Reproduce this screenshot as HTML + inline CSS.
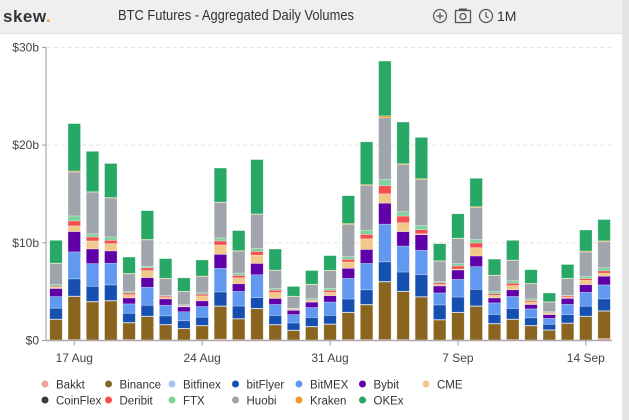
<!DOCTYPE html>
<html><head><meta charset="utf-8"><style>
body{margin:0;width:629px;height:420px;overflow:hidden;background:#fff;font-family:"Liberation Sans",sans-serif;position:relative}
#hdr{position:absolute;left:0;top:0;width:622px;height:33px;background:#efefef;border-bottom:1px solid #e2e2e2}
#logo{position:absolute;left:3px;top:7px;font-size:17px;font-weight:bold;color:#333;letter-spacing:.5px}
#logo span{color:#f0a020}
#title{position:absolute;left:118px;top:8px;font-size:14.5px;color:#333;white-space:nowrap;transform:scaleX(0.89);transform-origin:0 0}
#scroll{position:absolute;right:0;top:0;width:7px;height:420px;background:#e4e4e4}
.ic{position:absolute;top:8px;color:#555;font-size:14px}
</style></head><body>
<div id="hdr">
<div id="logo">skew<span>.</span></div>
<div id="title">BTC Futures - Aggregated Daily Volumes</div>
<svg class="ic" style="left:432px;top:8px" width="16" height="16"><circle cx="8" cy="8" r="6.5" fill="none" stroke="#555" stroke-width="1.2"/><path d="M8 4.5v7M4.5 8h7" stroke="#555" stroke-width="1.2"/></svg>
<svg class="ic" style="left:454px;top:7px" width="18" height="17"><rect x="1.5" y="3.5" width="15" height="12" fill="none" stroke="#555" stroke-width="1.3"/><rect x="5" y="1.5" width="8" height="2" fill="#555"/><circle cx="9" cy="9.5" r="3" fill="none" stroke="#555" stroke-width="1.3"/></svg>
<svg class="ic" style="left:478px;top:8px" width="16" height="16"><circle cx="8" cy="8" r="6.5" fill="none" stroke="#555" stroke-width="1.2"/><path d="M8 4v4.5l2.5 1.5" fill="none" stroke="#555" stroke-width="1.2"/></svg>
<div class="ic" style="left:497px;top:8px;font-size:14px;color:#333">1M</div>
</div>
<div id="scroll"></div>
<svg id="chart" width="629" height="420" style="position:absolute;left:0;top:0"></svg>
<script>
const dates=["16 Aug","17 Aug","18 Aug","19 Aug","20 Aug","21 Aug","22 Aug","23 Aug","24 Aug","25 Aug","26 Aug","27 Aug","28 Aug","29 Aug","30 Aug","31 Aug","1 Sep","2 Sep","3 Sep","4 Sep","5 Sep","6 Sep","7 Sep","8 Sep","9 Sep","10 Sep","11 Sep","12 Sep","13 Sep","14 Sep","15 Sep"];
const seriesNames=["Bakkt","Binance","Bitfinex","bitFlyer","BitMEX","Bybit","CME","CoinFlex","Deribit","FTX","Huobi","Kraken","OKEx"];
const seriesColors=["#f4a0a0","#8a6520","#a3c4f3","#1550b0","#6199f0","#6000a8","#f2c98a","#333c44","#f44e4e","#80d0a0","#a0a5ac","#e6a02a","#27a866"];
const bakkt=[0.05,0.1,0.05,0.05,0.1,0.05,0.05,0.05,0.1,0.15,0.1,0.1,0.05,0.05,0.05,0.05,0.1,0.1,0.1,0.1,0.05,0.05,0.05,0.05,0.05,0.1,0.05,0.05,0.05,0.05,0.2];
const binance=[2.1,4.4,3.9,4.0,1.7,2.4,1.55,1.15,1.4,3.35,2.1,3.15,1.55,0.97,1.35,1.6,2.75,3.55,5.9,4.9,4.4,2.05,2.8,3.45,1.65,2.05,1.45,1.0,1.7,2.4,2.8];
const bitfinex=[0.05,0.05,0.05,0.05,0.05,0.05,0.05,0.05,0.05,0.05,0.05,0.05,0.05,0.05,0.05,0.05,0.05,0.05,0.05,0.05,0.05,0.05,0.05,0.05,0.05,0.05,0.05,0.05,0.05,0.05,0.05];
const bitflyer=[1.11,1.76,1.55,1.59,0.94,1.11,0.87,0.77,0.84,1.42,1.28,1.08,0.91,0.73,0.91,0.87,1.35,1.49,2.0,1.96,2.24,1.49,1.55,1.69,0.91,1.08,0.77,0.56,0.84,1.01,1.21];
const bitmex=[1.19,2.76,2.32,2.22,0.96,1.84,1.09,0.92,1.09,2.42,1.5,2.35,1.13,0.85,1.02,1.37,2.12,2.7,3.86,2.66,2.49,1.23,1.81,2.32,1.19,1.23,0.92,0.61,1.06,1.43,1.43];
const bybit=[0.82,2.08,1.5,1.26,0.61,0.99,0.65,0.51,0.58,1.43,0.78,1.16,0.61,0.44,0.55,0.65,1.02,1.43,2.15,1.47,1.6,0.72,0.96,1.09,0.51,0.68,0.44,0.38,0.61,0.78,0.89];
const cme=[0.14,0.58,0.82,0.75,0.34,0.72,0.14,0.07,0.51,0.96,0.61,0.85,0.61,0.07,0.14,0.34,0.65,1.09,0.96,0.92,0.1,0.14,0.1,0.85,0.27,0.44,0.27,0.14,0.1,0.44,0.31];
const coinflex=[0,0,0,0,0,0,0,0,0,0,0,0,0,0,0,0,0,0,0,0,0,0,0,0,0,0,0,0,0,0,0];
const deribit=[0.1,0.51,0.41,0.34,0.17,0.27,0.14,0.07,0.17,0.41,0.24,0.38,0.24,0.07,0.07,0.2,0.27,0.44,0.82,0.68,0.41,0.17,0.31,0.48,0.17,0.24,0.14,0.07,0.14,0.17,0.24];
const ftx=[0.17,0.51,0.31,0.34,0.14,0.17,0.07,0.07,0.17,0.31,0.24,0.31,0.17,0.07,0.14,0.2,0.27,0.44,0.65,0.44,0.44,0.14,0.24,0.38,0.24,0.24,0.17,0.1,0.07,0.24,0.31];
const huobi=[2.15,4.5,4.27,3.99,1.81,2.7,1.71,1.33,1.64,3.62,2.25,3.48,1.84,1.19,1.43,1.81,3.31,4.57,6.31,4.81,4.68,2.08,2.56,3.24,1.6,2.08,1.54,0.96,1.71,2.49,2.66];
const kraken=[0.05,0.1,0.05,0.05,0.05,0.05,0.05,0.05,0.05,0.05,0.05,0.05,0.05,0.05,0.05,0.05,0.1,0.1,0.2,0.1,0.1,0.05,0.05,0.1,0.05,0.05,0.05,0.05,0.05,0.1,0.1];
const okex=[2.32,4.85,4.13,3.48,1.67,2.94,2.01,1.37,1.64,3.48,2.05,5.56,2.15,0.99,1.4,1.5,2.83,4.37,5.6,4.27,4.23,1.74,2.49,2.9,1.64,2.01,1.4,0.89,1.4,2.15,2.18];
const yTicks=[0,10,20,30];
const yTickLabels=["$0","$10b","$20b","$30b"];
const xTickIdx=[1,8,15,22,29];
const xTickLabels=["17 Aug","24 Aug","31 Aug","7 Sep","14 Sep"];

const seriesData=[bakkt,binance,bitfinex,bitflyer,bitmex,bybit,cme,coinflex,deribit,ftx,huobi,kraken,okex];
const NS="http://www.w3.org/2000/svg";
const svg=document.getElementById('chart');
const X0=56,STEP=18.27,BW=12.5,Y0=340.5,PPU=9.77;
function xs(i){return X0+i*STEP;}
function ys(v){return Y0-v*PPU;}
function mk(tag,attrs){const e=document.createElementNS(NS,tag);for(const k in attrs)e.setAttribute(k,attrs[k]);svg.appendChild(e);return e;}
yTicks.forEach((t,k)=>{
  if(t>0){const g=mk('line',{x1:47,x2:612,y1:ys(t),y2:ys(t),stroke:'#e3e3e3','stroke-dasharray':'4,3'});
  
  }
  const tk=mk('line',{x1:42,x2:46,y1:ys(t),y2:ys(t),stroke:'#999'});
  
  
  const tx=mk('text',{x:39,y:ys(t)+4,'text-anchor':'end','font-size':'12',fill:'#444','font-family':'Liberation Sans, sans-serif'});
  tx.textContent=yTickLabels[k];
  
  
});
const ax=mk('line',{x1:46,x2:46,y1:ys(30),y2:Y0,stroke:'#999'});


dates.forEach((d,i)=>{
  let acc=0;
  seriesData.forEach((s,si)=>{
    const v=s[i]; if(v<=0)return;
    const r=mk('rect',{x:xs(i)-BW/2,y:ys(acc+v),width:BW,height:v*PPU,fill:seriesColors[si],stroke:'rgba(255,255,255,0.45)','stroke-width':0.6});
    
    
    acc+=v;
  });
});
const xa=mk('line',{x1:46,x2:612,y1:Y0,y2:Y0,stroke:'#aaa','stroke-width':1.5});


xTickIdx.forEach((idx,k)=>{
  const t=mk('line',{x1:xs(idx),x2:xs(idx),y1:Y0,y2:Y0+5,stroke:'#999'});
  
  
  const tx=mk('text',{x:xs(idx),y:362,'text-anchor':'middle','font-size':'12',fill:'#444','font-family':'Liberation Sans, sans-serif'});
  tx.textContent=xTickLabels[k];
  
  
});
seriesNames.forEach((n,k)=>{
  const col=k%7,row=Math.floor(k/7);
  const cx=45+col*63.5,cy=384+row*16;
  const c=mk('circle',{cx:cx,cy:cy,r:3.5,fill:seriesColors[k]});
  
  
  const t=mk('text',{x:cx+11,y:cy+4.5,'font-size':'11.5',fill:'#333','font-family':'Liberation Sans, sans-serif'});
  t.textContent=n;
  
  
});
</script>
</body></html>
